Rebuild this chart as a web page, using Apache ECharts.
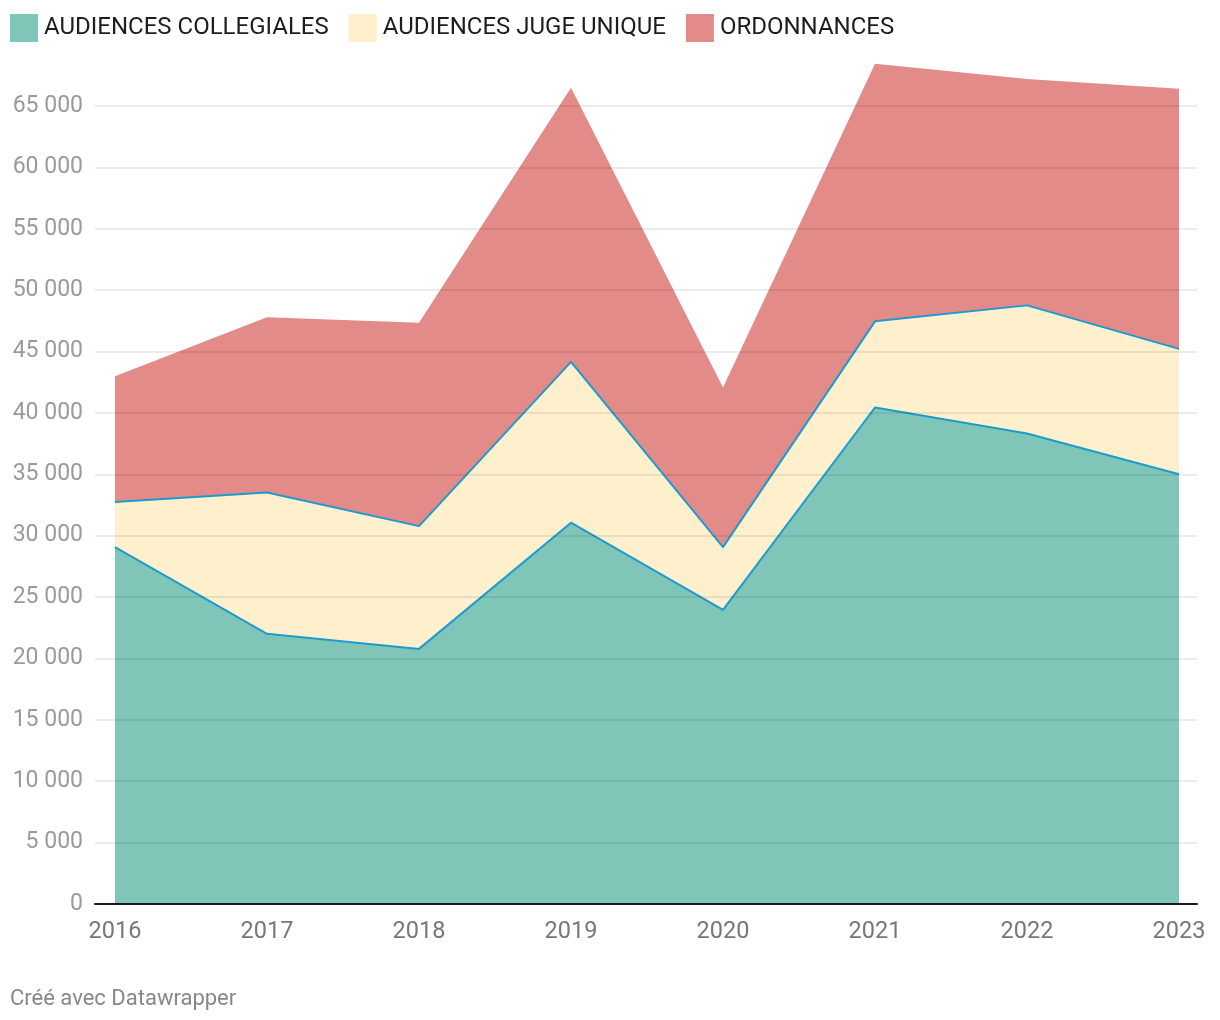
<!DOCTYPE html>
<html><head><meta charset="utf-8">
<script src="https://cdn.jsdelivr.net/npm/echarts@6/dist/echarts.min.js"></script>
<style>html,body{margin:0;padding:0;background:#fff}#c{width:1220px;height:1020px}</style>
</head><body><div id="c"></div>
<script>
const years = ['2016','2017','2018','2019','2020','2021','2022','2023'];
const collegiales = [29070, 22010, 20780, 31060, 23960, 40440, 38320, 35000];
const jugeUnique = [3670, 11500, 10000, 13100, 5110, 7020, 10440, 10220];
const ordonnances = [10250, 14290, 16560, 22320, 13000, 20980, 18430, 21180];
const seriesNames = ['AUDIENCES COLLEGIALES', 'AUDIENCES JUGE UNIQUE', 'ORDONNANCES'];
const yMax = 65000, yStep = 5000;

const font = 'Roboto, "Noto Sans", sans-serif';
const fmt = v => String(v).replace(/\B(?=(\d{3})+(?!\d))/g, ' ');
const chart = echarts.init(document.getElementById('c'));
chart.setOption({
  animation: false,
  textStyle: { fontFamily: font },
  legend: {
    left: 10, top: 14, padding: 0, itemWidth: 28, itemHeight: 28, itemGap: 20,
    icon: 'rect', data: seriesNames,
    textStyle: { fontSize: 24, color: '#1d1d1d', fontFamily: font, padding: [0, 0, 0, 1] }
  },
  graphic: [{ type: 'text', left: 10, top: 988, style: { text: 'Créé avec Datawrapper', fill: '#888', font: '22px ' + font } }],
  grid: [
    { left: 95, right: 23, top: 106, bottom: 116 },
    { left: 115, right: 41, top: 106, bottom: 116 }
  ],
  xAxis: [
    { gridIndex: 0, type: 'value', min: 0, max: 1, axisLabel: { show: false }, axisTick: { show: false },
      splitLine: { show: false }, axisLine: { show: true, lineStyle: { color: '#1a1a1a', width: 2 } }, z: 6 },
    { gridIndex: 1, type: 'category', data: years, boundaryGap: false,
      axisLine: { show: false }, axisTick: { show: false },
      axisLabel: { color: '#777', fontSize: 23.5, margin: 16, fontFamily: font } }
  ],
  yAxis: [
    { gridIndex: 0, type: 'value', min: 0, max: yMax, interval: yStep, z: 5,
      axisLine: { show: false }, axisTick: { show: false },
      axisLabel: { color: '#9a9a9a', fontSize: 23, margin: 12, formatter: fmt, fontFamily: font },
      splitLine: { show: true, lineStyle: { color: 'rgba(0,0,0,0.1)', width: 1.5 } } },
    { gridIndex: 1, type: 'value', min: 0, max: yMax, show: false, splitLine: { show: false } }
  ],
  series: [
    { name: seriesNames[0], type: 'line', xAxisIndex: 1, yAxisIndex: 1, stack: 't', data: collegiales,
      symbol: 'none', clip: false, z: 4, itemStyle: { color: '#7fc6b9' },
      lineStyle: { color: '#1d9bcf', width: 2 }, areaStyle: { color: '#7fc6b9', opacity: 1 } },
    { name: seriesNames[1], type: 'line', xAxisIndex: 1, yAxisIndex: 1, stack: 't', data: jugeUnique,
      symbol: 'none', clip: false, z: 3, itemStyle: { color: '#fef0cd' },
      lineStyle: { color: '#1d9bcf', width: 2 }, areaStyle: { color: '#fef0cd', opacity: 1 } },
    { name: seriesNames[2], type: 'line', xAxisIndex: 1, yAxisIndex: 1, stack: 't', data: ordonnances,
      symbol: 'none', clip: false, z: 2, itemStyle: { color: '#e28b89' },
      lineStyle: { width: 0 }, areaStyle: { color: '#e28b89', opacity: 1 } }
  ]
});
</script></body></html>
